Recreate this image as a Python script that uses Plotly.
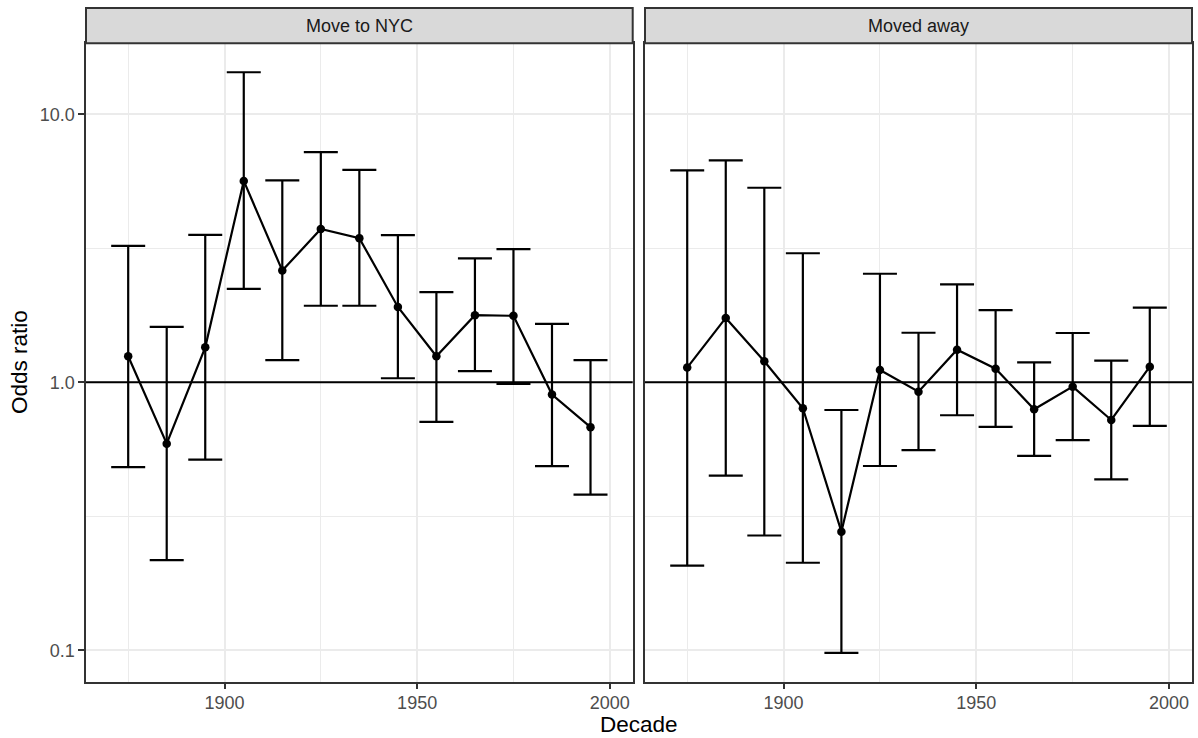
import plotly.graph_objects as go

# ---- data ----
decades = [1875, 1885, 1895, 1905, 1915, 1925, 1935, 1945, 1955, 1965, 1975, 1985, 1995]

nyc_or = [1.25, 0.59, 1.35, 5.64, 2.61, 3.73, 3.45, 1.91, 1.25, 1.78, 1.77, 0.90, 0.68]
nyc_lo = [0.482, 0.217, 0.514, 2.23, 1.21, 1.93, 1.93, 1.035, 0.711, 1.10, 0.986, 0.486, 0.381]
nyc_hi = [3.23, 1.61, 3.55, 14.35, 5.67, 7.22, 6.20, 3.54, 2.17, 2.90, 3.14, 1.65, 1.21]

away_or = [1.134, 1.738, 1.198, 0.80, 0.277, 1.111, 0.922, 1.323, 1.124, 0.793, 0.963, 0.723, 1.143]
away_lo = [0.207, 0.448, 0.268, 0.212, 0.0977, 0.487, 0.558, 0.753, 0.681, 0.531, 0.608, 0.434, 0.687]
away_hi = [6.18, 6.735, 5.32, 3.03, 0.788, 2.54, 1.53, 2.32, 1.86, 1.187, 1.527, 1.204, 1.898]

panel_titles = ["Move to NYC", "Moved away"]
x_ticks = [1900, 1950, 2000]
x_minor = [1875, 1925, 1975]
y_ticks = [0.1, 1, 10]
y_ticktext = ["0.1", "1.0", "10.0"]
y_minor = [0.316228, 3.16228]

# ---- layout geometry (pixels) ----
W, H = 1198, 738
FONT = "Liberation Sans, Arial, Helvetica, sans-serif"
px_x = lambda p: p / W
px_y = lambda p: 1 - p / H

left_dom = [px_x(86), px_x(632.7)]
right_dom = [px_x(645), px_x(1192)]
y_dom = [px_y(681.7), px_y(43.3)]
strip_top = px_y(8)

fig = go.Figure()


def add_panel(or_vals, lo_vals, hi_vals, xa, ya):
    fig.add_trace(go.Scatter(
        x=decades, y=or_vals, mode="lines+markers",
        xaxis=xa, yaxis=ya,
        line=dict(color="black", width=2.2),
        marker=dict(color="black", size=8.5),
        error_y=dict(type="data", symmetric=False,
                     array=[h - o for h, o in zip(hi_vals, or_vals)],
                     arrayminus=[o - l for o, l in zip(or_vals, lo_vals)],
                     color="black", thickness=2.2, width=17),
        showlegend=False, hoverinfo="skip",
    ))


add_panel(nyc_or, nyc_lo, nyc_hi, "x", "y")
add_panel(away_or, away_lo, away_hi, "x2", "y2")

xcommon = dict(
    range=[1864.05, 2005.95], tickvals=x_ticks, ticks="outside", ticklen=5.7,
    tickwidth=2.2, tickcolor="#333333", showgrid=True, gridcolor="#EBEBEB",
    gridwidth=2.2, zeroline=False, showline=True, mirror=True,
    linecolor="#333333", linewidth=2, ticklabelstandoff=-2,
    tickfont=dict(size=18, color="#4D4D4D", family=FONT),
    minor=dict(tickvals=x_minor, showgrid=True, gridcolor="#EBEBEB",
               gridwidth=1.1, ticks=""),
)
ycommon = dict(
    type="log", range=[-1.1175, 1.2649], tickvals=y_ticks, ticktext=y_ticktext,
    showgrid=True, gridcolor="#EBEBEB", gridwidth=2.2, zeroline=False,
    showline=True, mirror=True, linecolor="#333333", linewidth=2,
    domain=y_dom,
    tickfont=dict(size=18, color="#4D4D4D", family=FONT),
    minor=dict(tickvals=y_minor, showgrid=True, gridcolor="#EBEBEB",
               gridwidth=1.1, ticks=""),
)

fig.update_layout(
    width=W, height=H,
    margin=dict(l=0, r=0, t=0, b=0),
    paper_bgcolor="white", plot_bgcolor="white",
    showlegend=False,
    xaxis=dict(domain=left_dom, anchor="y", **xcommon),
    xaxis2=dict(domain=right_dom, anchor="y2", **xcommon),
    yaxis=dict(anchor="x", ticks="outside", ticklen=5.7, tickwidth=2.2,
               tickcolor="#333333", **ycommon),
    yaxis2=dict(anchor="x2", ticks="", showticklabels=False, **ycommon),
)

# reference line at odds ratio 1
for xa, ya in (("x", "y"), ("x2", "y2")):
    fig.add_shape(type="line", xref=f"{xa} domain", yref=ya,
                  x0=0, x1=1, y0=1, y1=1,
                  line=dict(color="black", width=2.2))

# facet strips
for dom, title in zip((left_dom, right_dom), panel_titles):
    fig.add_shape(type="rect", xref="paper", yref="paper",
                  x0=dom[0], x1=dom[1], y0=y_dom[1], y1=strip_top,
                  fillcolor="#D9D9D9", line=dict(color="#333333", width=2))
    fig.add_annotation(xref="paper", yref="paper",
                       x=(dom[0] + dom[1]) / 2, y=(y_dom[1] + strip_top) / 2,
                       text=title, showarrow=False,
                       xanchor="center", yanchor="middle",
                       font=dict(size=18, color="#1A1A1A", family=FONT))

# axis titles
fig.add_annotation(xref="paper", yref="paper", x=px_x(638.5), y=px_y(724),
                   text="Decade", showarrow=False, xanchor="center",
                   yanchor="middle", font=dict(size=22.5, color="black", family=FONT))
fig.add_annotation(xref="paper", yref="paper", x=px_x(19.5), y=px_y(362.5),
                   text="Odds ratio", showarrow=False, textangle=-90,
                   xanchor="center", yanchor="middle",
                   font=dict(size=22.5, color="black", family=FONT))

fig.write_html(
    "out.html",
    config={"displayModeBar": False},
    post_script="document.body.style.margin='0';document.body.style.padding='0';"
                "document.body.style.overflow='hidden';",
)
